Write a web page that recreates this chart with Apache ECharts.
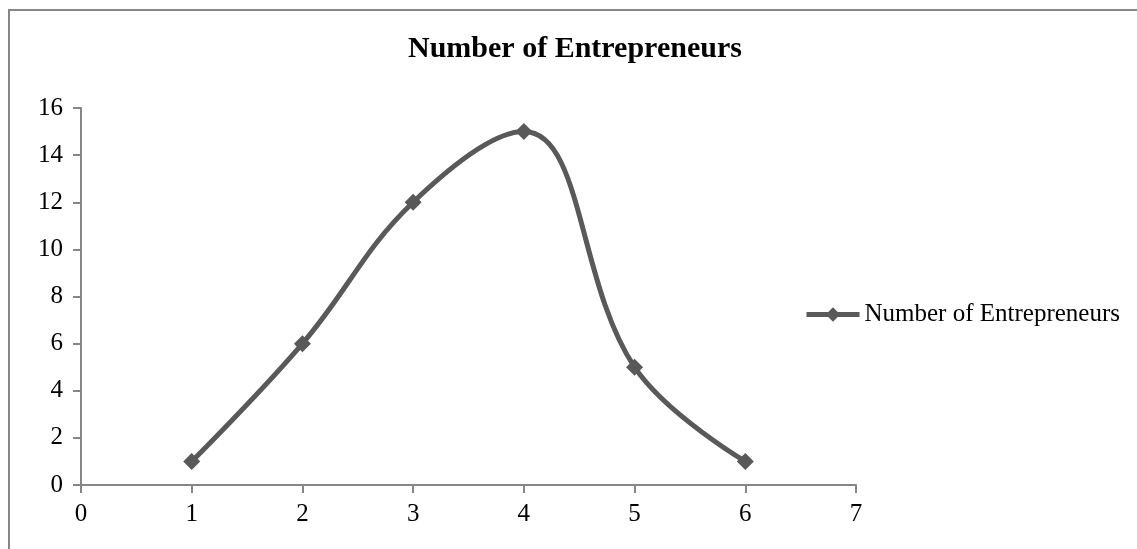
<!DOCTYPE html>
<html>
<head>
<meta charset="utf-8">
<script src="https://cdn.jsdelivr.net/npm/echarts@6/dist/echarts.min.js"></script>
<style>
  html, body { margin: 0; padding: 0; background: #fff; }
  #chart { width: 1137px; height: 549px; }
</style>
</head>
<body>
<div id="chart"></div>
<script>
// data
const xValues = [1, 2, 3, 4, 5, 6]
const entrepreneurs = [1, 6, 12, 15, 5, 1]
const seriesName = 'Number of Entrepreneurs'

const points = xValues.map((x, i) => [x, entrepreneurs[i]])

const myChart = echarts.init(document.getElementById('chart'))
const font = '"Liberation Serif", "Times New Roman", serif'
const axisGray = '#868686'
const lineGray = '#595959'

const option = {
  backgroundColor: '#fff',
  textStyle: { fontFamily: font },
  graphic: [
    {
      type: 'rect',
      shape: { x: 9, y: 10, width: 1200, height: 600 },
      style: { fill: 'none', stroke: axisGray, lineWidth: 2 },
      silent: true
    }
  ],
  title: {
    text: 'Number of Entrepreneurs',
    left: 403,
    top: 29,
    textStyle: {
      fontFamily: font,
      fontSize: 30,
      fontWeight: 'bold',
      color: '#000'
    }
  },
  legend: {
    left: 804,
    top: 302,
    padding: 0,
    itemWidth: 53,
    itemHeight: 18,
    textStyle: { fontFamily: font, fontSize: 25, color: '#000' },
    data: [
      {
        name: seriesName,
        lineStyle: { width: 5, color: lineGray },
        itemStyle: { color: lineGray }
      }
    ]
  },
  grid: {
    left: 81,
    right: 281,
    top: 108,
    bottom: 64
  },
  xAxis: {
    type: 'value',
    min: 0,
    max: 7,
    interval: 1,
    splitLine: { show: false },
    axisLine: { lineStyle: { color: axisGray, width: 2 } },
    axisTick: { length: 8, lineStyle: { color: axisGray, width: 2 } },
    axisLabel: { color: '#000', fontSize: 25, margin: 17, fontFamily: font }
  },
  yAxis: {
    type: 'value',
    min: 0,
    max: 16,
    interval: 2,
    splitLine: { show: false },
    axisLine: { show: true, lineStyle: { color: axisGray, width: 2 } },
    axisTick: { show: true, length: 8, lineStyle: { color: axisGray, width: 2 } },
    axisLabel: { color: '#000', fontSize: 25, margin: 18, fontFamily: font }
  },
  series: [
    {
      name: seriesName,
      type: 'line',
      data: points,
      smooth: 0.4,
      symbol: 'diamond',
      symbolSize: 17,
      lineStyle: { color: lineGray, width: 5 },
      itemStyle: { color: lineGray },
      animation: false
    }
  ]
}

myChart.setOption(option)

window.addEventListener('resize', () => {
  myChart.resize()
})
</script>
</body>
</html>
